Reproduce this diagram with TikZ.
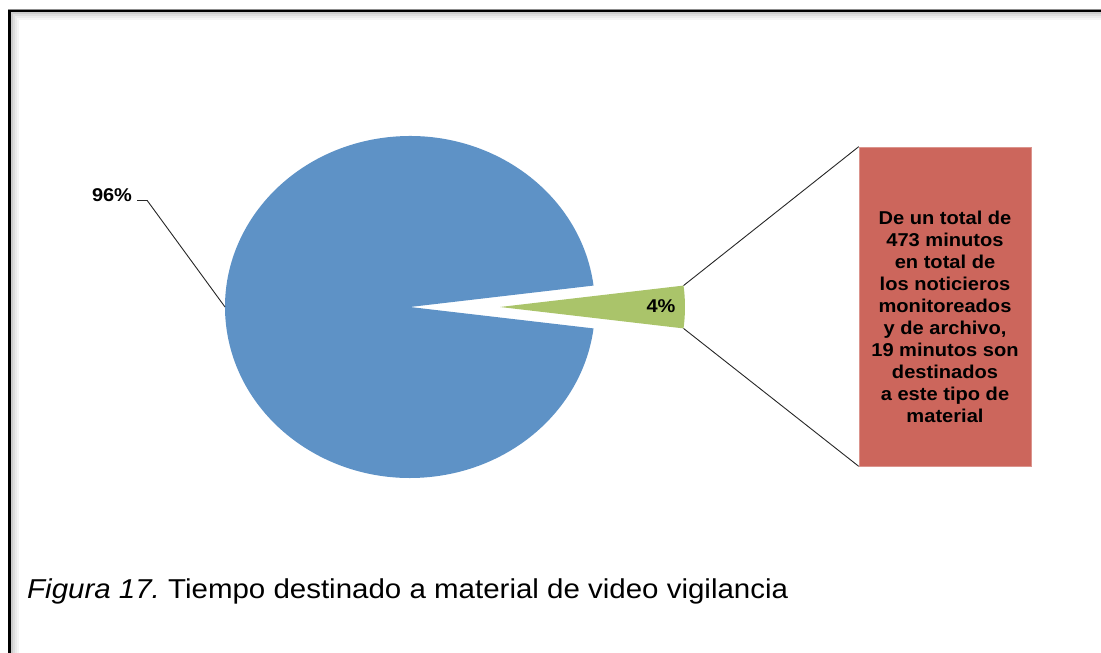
\documentclass[tikz,border=0pt]{standalone}
\usepackage{fontspec}
\newfontfamily\chartfont[FakeStretch=1.08]{Liberation Sans}
\definecolor{sliceBlue}{RGB}{94,146,198}
\definecolor{sliceGreen}{RGB}{170,196,106}
\definecolor{noteRed}{RGB}{204,102,92}
\frenchspacing

\begin{document}
\begin{tikzpicture}[x=1pt,y=1pt,
    pct/.style={font=\chartfont\bfseries\fontsize{18.5}{22}\selectfont, inner sep=0pt},
    leader/.style={draw=black!85, line width=0.9pt},
    notebox/.style={fill=noteRed, draw=noteRed!70!white, line width=0.6pt,
      minimum width=172pt, minimum height=319pt, inner sep=0pt},
    notetext/.style={font=\chartfont\bfseries\fontsize{18.6}{22}\selectfont,
      align=center, inner sep=0pt},
    captiontext/.style={font=\chartfont\fontsize{27.3}{32}\selectfont,
      anchor=base west, inner sep=0pt}]
  \useasboundingbox (0,0) rectangle (1101,653);
  % frame with its shadow
  \foreach \s/\c in {8/4,6/8,4/13,2/20}
    \draw[black!\c, line width=2pt] (9.5+\s,0) -- (9.5+\s,642-\s) -- (1101,642-\s);
  \draw[black!45, line width=0.8pt] (8,0) -- (8,643.5) -- (1101,643.5);
  \draw[black, line width=2.2pt] (9.5,0) -- (9.5,642) -- (1101,642);

  % pie
  \coordinate (pieCenter) at (410,346);
  \coordinate (sliceCenter) at (500,346);
  \fill[sliceBlue] (pieCenter) -- ++(7.2:185 and 171)
    arc[start angle=7.2, end angle=352.8, x radius=185, y radius=171] -- cycle;
  \fill[sliceGreen] (sliceCenter) -- ++(-7.2:185 and 171)
    arc[start angle=-7.2, end angle=7.2, x radius=185, y radius=171] -- cycle;
  \path (pieCenter) ++(180:185 and 171) coordinate (pieLeft);
  \path (sliceCenter) ++(7.2:185 and 171) coordinate (sliceTop);
  \path (sliceCenter) ++(-7.2:185 and 171) coordinate (sliceBottom);

  \node[pct] (bigPct) at (112,458) {96\%};
  \node[pct] (smallPct) at (661,346.5) {4\%};
  \draw[leader] ([xshift=5pt,yshift=-5.5pt]bigPct.east) -- ++(10,0) -- (pieLeft);

  % note box
  \node[notebox] (note) at (945,346.5) {};
  \node[notetext] (noteText) at ([yshift=-10pt]note.center)
    {De un total de\\473 minutos\\en total de\\los noticieros\\monitoreados\\
     y de archivo,\\19 minutos son\\destinados\\a este tipo de\\material};
  \draw[leader] (sliceTop) -- (note.north west);
  \draw[leader] (sliceBottom) -- (note.south west);

  \node[captiontext] (caption) at (27,54)
    {\textit{Figura 17.} Tiempo destinado a material de video vigilancia};
\end{tikzpicture}
\end{document}
